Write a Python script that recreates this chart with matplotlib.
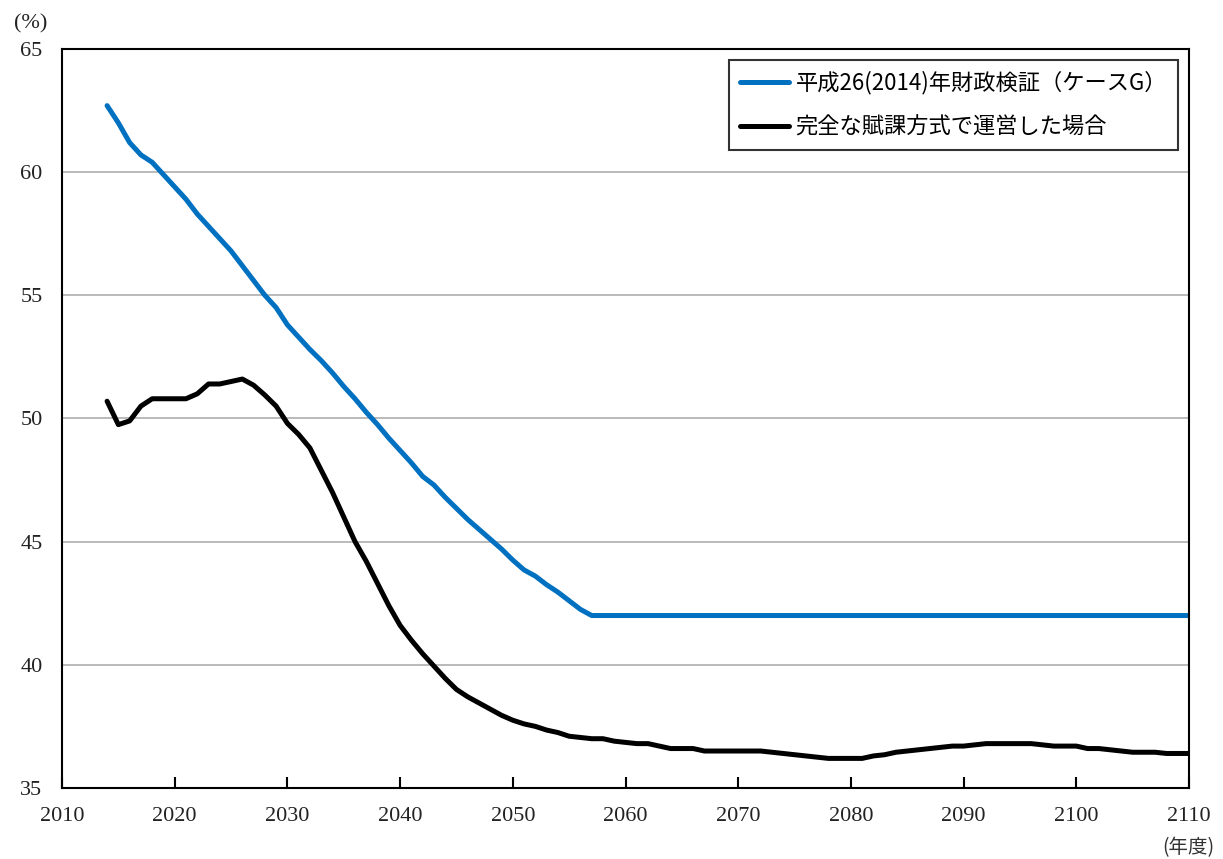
import matplotlib
matplotlib.use("Agg")
import matplotlib.pyplot as plt
from matplotlib.ticker import MultipleLocator

# data
years = list(range(2014, 2111))

kensho_head = [62.7, 62.0, 61.2, 60.7, 60.4, 59.9, 59.4, 58.9, 58.3, 57.8,
               57.3, 56.8, 56.2, 55.6, 55.0, 54.5, 53.8, 53.3, 52.8, 52.35,
               51.85, 51.3, 50.8, 50.25, 49.75, 49.2, 48.7, 48.2, 47.65, 47.3,
               46.8, 46.35, 45.9, 45.5, 45.1, 44.7, 44.25, 43.85, 43.6, 43.25,
               42.95, 42.6, 42.25, 42.0]
kensho = kensho_head + [42.0] * (len(years) - len(kensho_head))

fukaka = [50.7, 49.75, 49.9, 50.5, 50.8, 50.8, 50.8, 50.8, 51.0, 51.4,
          51.4, 51.5, 51.6, 51.35, 50.95, 50.5, 49.8, 49.35, 48.8, 47.9,
          47.0, 46.0, 45.0, 44.2, 43.3, 42.4, 41.6, 41.0, 40.45, 39.95,
          39.45, 39.0, 38.7, 38.45, 38.2, 37.95, 37.75, 37.6, 37.5, 37.35,
          37.25, 37.1, 37.05, 37.0, 37.0, 36.9, 36.85, 36.8, 36.8, 36.7,
          36.6, 36.6, 36.6, 36.5, 36.5, 36.5, 36.5, 36.5, 36.5, 36.45,
          36.4, 36.35, 36.3, 36.25, 36.2, 36.2, 36.2, 36.2, 36.3, 36.35,
          36.45, 36.5, 36.55, 36.6, 36.65, 36.7, 36.7, 36.75, 36.8, 36.8,
          36.8, 36.8, 36.8, 36.75, 36.7, 36.7, 36.7, 36.6, 36.6, 36.55,
          36.5, 36.45, 36.45, 36.45, 36.4, 36.4, 36.4]

label_kensho = "平成26(2014)年財政検証（ケースG）"
label_fukaka = "完全な賦課方式で運営した場合"

CJK = ["Noto Sans CJK JP", "DejaVu Sans"]
SERIF = ["Liberation Serif", "DejaVu Serif"]

fig = plt.figure(figsize=(12.23, 8.59), dpi=100)
ax = fig.add_axes([0.0507, 0.0827, 0.9215, 0.8603])

ax.plot(years, kensho, color="#0070C0", lw=3.6, label=label_kensho,
        solid_joinstyle="round", solid_capstyle="round")
ax.plot(years, fukaka, color="black", lw=3.6, label=label_fukaka,
        solid_joinstyle="round", solid_capstyle="round")

ax.set_xlim(2010, 2110)
ax.set_ylim(35, 65)
ax.xaxis.set_major_locator(MultipleLocator(10))
ax.yaxis.set_major_locator(MultipleLocator(5))
ax.grid(axis="y", color="#b4b4b4", lw=1.3)
ax.set_axisbelow(True)

for s in ax.spines.values():
    s.set_linewidth(1.5)
    s.set_color("black")

ax.tick_params(axis="x", direction="in", length=8, width=1.5, pad=14,
               labelsize=16)
ax.tick_params(axis="y", length=0, pad=14, labelsize=16)
for lab in ax.get_xticklabels() + ax.get_yticklabels():
    lab.set_family(SERIF)
    lab.set_color("#222222")

fig.text(0.0255, 0.972, "(%)", family=SERIF, fontsize=16,
         ha="center", va="center", color="#222222")
fig.text(0.972, 0.0128, "(年度)", family=CJK, fontsize=14,
         ha="center", va="center", color="#333333")

leg = ax.legend(loc="upper right", bbox_to_anchor=(0.9905, 0.985),
                prop={"family": CJK, "size": 16}, frameon=True,
                fancybox=False, handlelength=2.2, handletextpad=0.3,
                labelspacing=0.95, borderpad=0.5, borderaxespad=0)
leg.get_frame().set_edgecolor("black")
leg.get_frame().set_linewidth(1.5)

fig.savefig("out.png", dpi=100)
